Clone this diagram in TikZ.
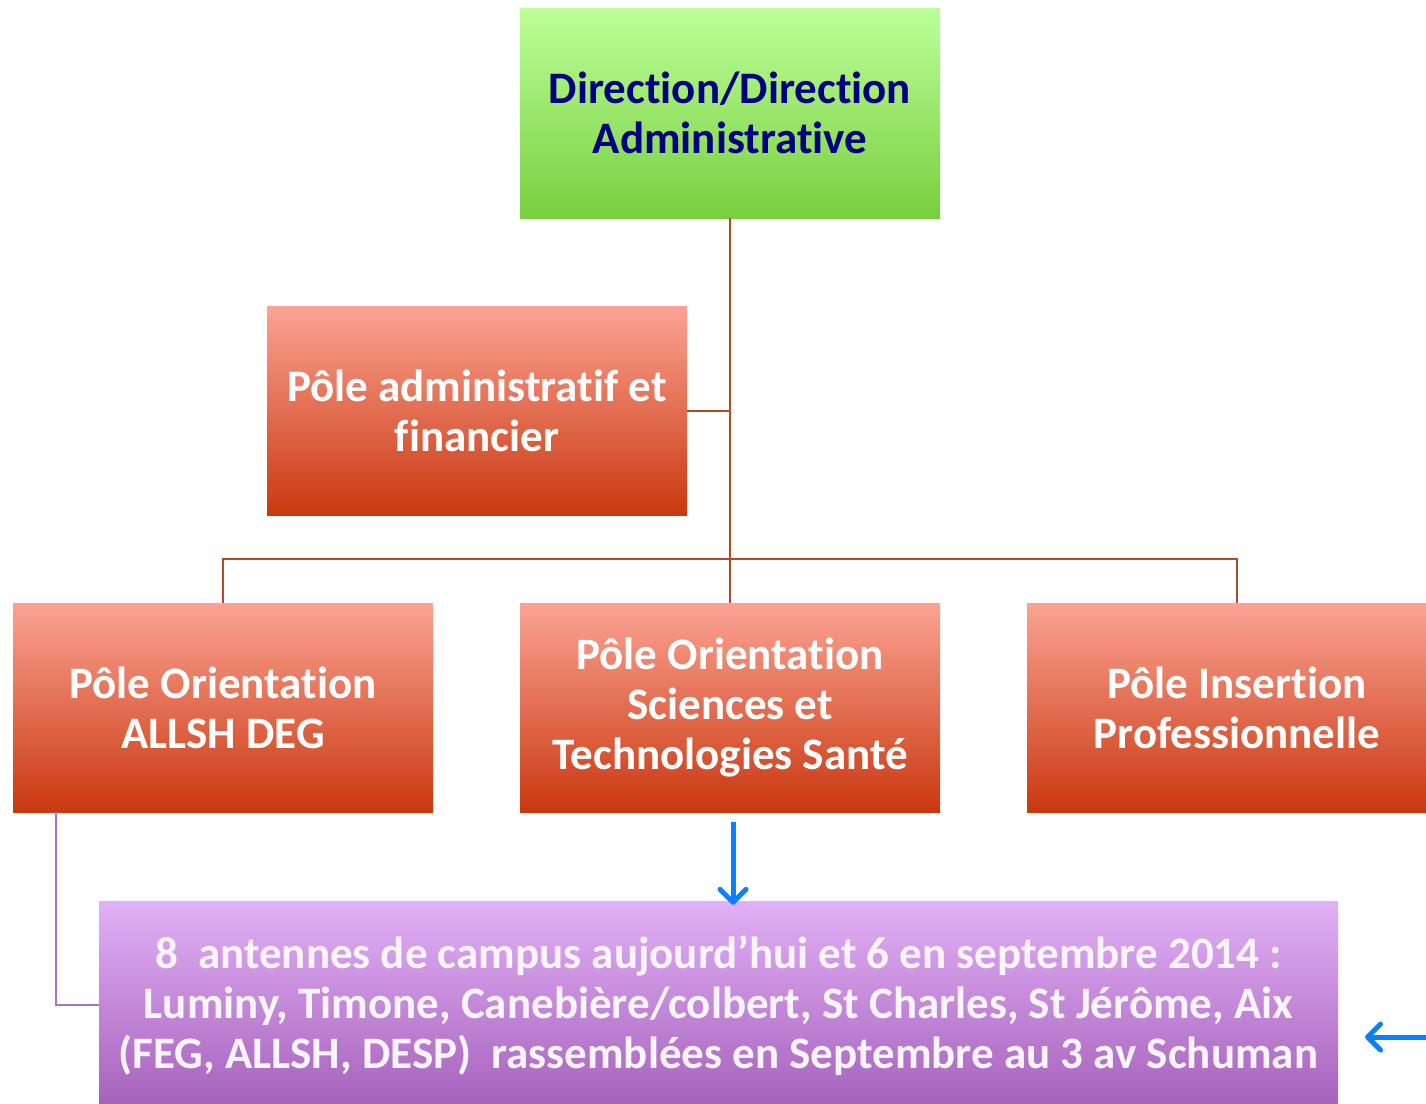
\documentclass[tikz,border=0pt]{standalone}
\usepackage{fontspec}
\setmainfont{Carlito}[Ligatures=NoCommon]
\usetikzlibrary{arrows.meta}
\definecolor{dirtxt}{HTML}{000080}
\definecolor{grtop}{HTML}{BCFF99}
\definecolor{grbot}{HTML}{78CF3E}
\definecolor{sltop}{HTML}{FBA393}
\definecolor{slbot}{HTML}{C9380F}
\definecolor{pptop}{HTML}{E3B0F7}
\definecolor{ppbot}{HTML}{A663BC}
\definecolor{brn}{HTML}{B5472B}
\definecolor{vio}{HTML}{A774C2}
\definecolor{arr}{HTML}{0A80FF}
\definecolor{pptxt}{HTML}{FAF4FC}
\tikzset{
  boxbase/.style={inner sep=0pt, align=center, font=\bfseries\fontsize{45}{50}\selectfont},
  greenbox/.style={boxbase, top color=grtop, bottom color=grbot, text=dirtxt, minimum width=420pt, minimum height=210pt},
  salmonbox/.style={boxbase, top color=sltop, bottom color=slbot, text=white, minimum width=420pt, minimum height=209pt},
  purplebox/.style={boxbase, top color=pptop, bottom color=ppbot, minimum width=1239pt, minimum height=202pt},
  purpletext/.style={boxbase, text=pptxt},
  brline/.style={draw=brn, line width=2.2pt},
  vline/.style={draw=vio, line width=2.2pt},
  bluearrow/.style={draw=arr, line width=5pt, -{Straight Barb[length=13pt, width=26pt, line cap=round, line join=round]}}
}
\begin{document}
\begin{tikzpicture}[x=1pt,y=-1pt]
\useasboundingbox (0,0) rectangle (1426,1103);
\clip (0,0) rectangle (1426,1103);
\fill[white] (0,0) rectangle (1426,1103);
\coordinate (hub) at (730,559);
\node[greenbox] (dir) at (730,113) {Direction/Direction\\Administrative};
\node[salmonbox] (pa) at (477,411) {Pôle administratif et\\financier};
\node[salmonbox] (pal) at (223,707.5) {Pôle Orientation\\ALLSH DEG};
\node[salmonbox] (pst) at (730,707.5) {Pôle Orientation\\Sciences et\\Technologies Santé};
\node[salmonbox] (pip) at (1237,707.5) {Pôle Insertion\\Professionnelle};
\node[purplebox] (ant) at (718.5,1002) {};
\node[purpletext] (anttxt) at ([yshift=-4pt]ant.center) {8\ \ antennes de campus aujourd’hui et 6 en septembre 2014 :\\Luminy, Timone, Canebière/colbert, St Charles, St Jérôme, Aix\\(FEG, ALLSH, DESP)\ \ rassemblées en Septembre au 3 av Schuman};
\draw[brline] (dir.south) -- (pst.north);
\draw[brline] (pa.east) -- (pa.east -| dir.south);
\draw[brline] (pal.north) -- (pal.north |- hub) -- (pip.north |- hub) -- (pip.north);
\draw[vline] (pal.south -| 56,0) -- (56,1005) -- (ant.west |- 0,1005);
\draw[bluearrow] (733,822) -- ([yshift=-4pt]ant.north -| 733,0);
\coordinate (rfree) at (1440,1037);
\coordinate (rtip) at (1365,1037);
\draw[bluearrow] (rfree) -- (rtip);
\end{tikzpicture}
\end{document}
